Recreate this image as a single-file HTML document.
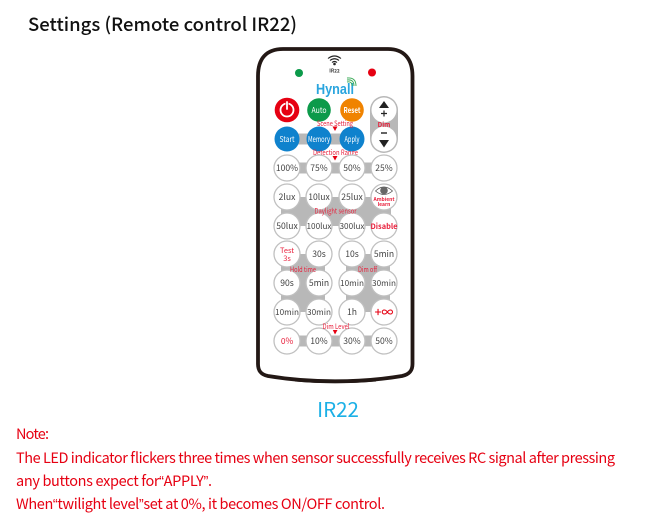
<!DOCTYPE html>
<html><head><meta charset="utf-8">
<style>
html,body{margin:0;padding:0;background:#fff;width:650px;height:525px;overflow:hidden}
svg{display:block}
text{font-family:"Noto Sans CJK SC","Liberation Sans",sans-serif}
.b{fill:#fff;stroke:#c0c0c0;stroke-width:1.300}
.l{font-size:8.600px;fill:#444;text-anchor:middle}
.w{font-size:8px;fill:#fff;text-anchor:middle}
.r{font-size:7.400px;fill:#e8203c;text-anchor:middle}
.n{font-size:14.500px;fill:#e60012}
.q{font-family:"Liberation Sans",sans-serif}
</style></head><body>
<svg width="650" height="525" viewBox="0 0 650 525" xmlns="http://www.w3.org/2000/svg">
<text x="28" y="31" font-size="18.500" font-weight="500" fill="#111" textLength="269">Settings (Remote control IR22)</text>

<path d="M283 49H388C404 49 412.500 59 412.500 76V364C412.500 371 409 374.500 402 376C360 383 310 383 268 376C261 374.500 258 371 258 364V76C258 59 266 49 283 49Z" fill="#fff" stroke="#231815" stroke-width="3.800"/>
<path d="M295 380.500Q335 384 376 380.500" fill="none" stroke="#231815" stroke-width="2"/>

<g fill="none" stroke="#222" stroke-width="1.100">
<path d="M328 58.500Q334.500 53.500 341 58.500"/><path d="M330 60.500Q334.500 57 339 60.500"/><path d="M332 62.500Q334.500 60.500 337 62.500"/>
</g>
<circle cx="334.500" cy="64" r="1.300" fill="#222"/>
<text x="334.500" y="72.500" font-size="4.800" font-weight="700" fill="#333" text-anchor="middle">IR22</text>
<circle cx="299" cy="73" r="4" fill="#0c9a4a"/>
<circle cx="372" cy="72.500" r="4" fill="#e60012"/>
<text x="316" y="94" font-size="14.500" font-weight="700" fill="#2aa5de" textLength="38" lengthAdjust="spacingAndGlyphs" style="font-family:'Liberation Sans',sans-serif">Hynall</text>
<g fill="none" stroke="#35a853" stroke-width="0.900"><path d="M347 82Q352 81 352 86"/><path d="M347 80Q354 79 354 86"/><path d="M347 78Q356 77 356 86"/></g>

<!-- gray connectors -->
<g fill="#b8b8b8">
<rect x="370" y="96" width="28" height="57" rx="14"/>
<rect x="287" y="133.500" width="65" height="11"/>
<rect x="287" y="162.500" width="97" height="11"/>
<polygon points="287,197 384,197 384,226 287,226"/>
<rect x="281" y="206" width="110" height="11"/>
<polygon points="287,254 319,254 319,312 287,312"/>
<rect x="281" y="263" width="44" height="11"/>
<rect x="281" y="292" width="44" height="11"/>
<polygon points="352,254 384,254 384,312 352,312"/>
<rect x="346" y="263" width="44" height="11"/>
<rect x="346" y="292" width="44" height="11"/>
<rect x="287" y="335.500" width="97" height="11"/>
</g>

<!-- top row -->
<circle cx="287" cy="110" r="12.300" fill="#e60012"/>
<circle cx="287" cy="110" r="6.500" fill="none" stroke="#fff" stroke-width="1.800"/>
<rect x="285.800" y="101" width="2.400" height="9" fill="#fff" stroke="#e60012" stroke-width="0.600"/>
<circle cx="319" cy="110" r="11.800" fill="#0c9a4a"/>
<circle cx="352" cy="110" r="11.800" fill="#f08300"/>
<text x="319" y="113" class="w" textLength="15" lengthAdjust="spacingAndGlyphs">Auto</text>
<text x="352" y="113" class="w" font-weight="700" textLength="17" lengthAdjust="spacingAndGlyphs">Reset</text>

<circle cx="287" cy="139" r="12.500" fill="#0f82cd"/>
<circle cx="319" cy="139" r="12.500" fill="#0f82cd"/>
<circle cx="352" cy="139" r="12.500" fill="#0f82cd"/>
<text x="287" y="142" class="w" textLength="15" lengthAdjust="spacingAndGlyphs">Start</text>
<text x="319" y="141.800" class="w" textLength="22" lengthAdjust="spacingAndGlyphs">Memory</text>
<text x="352" y="141.800" class="w" textLength="15" lengthAdjust="spacingAndGlyphs">Apply</text>

<circle cx="384" cy="110" r="12.500" fill="#fff"/>
<circle cx="384" cy="139" r="12.500" fill="#fff"/>
<polygon points="384,101 389,108 379,108" fill="#222"/>
<path d="M384 110.500v6M381 113.500h6" stroke="#222" stroke-width="1.200"/>
<path d="M381 133h6" stroke="#222" stroke-width="1.400"/>
<polygon points="379,140 389,140 384,147.500" fill="#222"/>
<text x="384" y="127" class="r" font-weight="700" style="font-size:6.400px">Dim</text>

<text x="335" y="126" class="r" textLength="36" lengthAdjust="spacingAndGlyphs">Scene Setting</text>
<polygon points="332.500,126.500 337.500,126.500 335,131" fill="#e60012"/>
<text x="335.500" y="155" class="r" textLength="45" lengthAdjust="spacingAndGlyphs">Detection Range</text>
<polygon points="332.500,156 337.500,156 335,160.500" fill="#e60012"/>

<!-- rows -->
<g>
<circle class="b" cx="287" cy="168" r="13"/><circle class="b" cx="319" cy="168" r="13"/><circle class="b" cx="352" cy="168" r="13"/><circle class="b" cx="384" cy="168" r="13"/>
<circle class="b" cx="287" cy="197" r="13"/><circle class="b" cx="319" cy="197" r="13"/><circle class="b" cx="352" cy="197" r="13"/><circle class="b" cx="384" cy="197" r="13"/>
<circle class="b" cx="287" cy="226" r="13"/><circle class="b" cx="319" cy="226" r="13"/><circle class="b" cx="352" cy="226" r="13"/><circle class="b" cx="384" cy="226" r="13"/>
<circle class="b" cx="287" cy="254" r="13"/><circle class="b" cx="319" cy="254" r="13"/><circle class="b" cx="352" cy="254" r="13"/><circle class="b" cx="384" cy="254" r="13"/>
<circle class="b" cx="287" cy="283" r="13"/><circle class="b" cx="319" cy="283" r="13"/><circle class="b" cx="352" cy="283" r="13"/><circle class="b" cx="384" cy="283" r="13"/>
<circle class="b" cx="287" cy="312" r="13"/><circle class="b" cx="319" cy="312" r="13"/><circle class="b" cx="352" cy="312" r="13"/><circle class="b" cx="384" cy="312" r="13"/>
<circle class="b" cx="287" cy="341" r="13"/><circle class="b" cx="319" cy="341" r="13"/><circle class="b" cx="352" cy="341" r="13"/><circle class="b" cx="384" cy="341" r="13"/>
</g>

<text x="287" y="171" class="l">100%</text><text x="319" y="171" class="l">75%</text><text x="352" y="171" class="l">50%</text><text x="384" y="171" class="l">25%</text>
<text x="287" y="200" class="l">2lux</text><text x="319" y="200" class="l">10lux</text><text x="352" y="200" class="l">25lux</text>
<path d="M375.500 191Q384 183 392.500 191Q384 198 375.500 191Z" fill="#fff" stroke="#555" stroke-width="0.800"/>
<circle cx="384" cy="190.500" r="3.800" fill="#666"/>
<text x="384" y="201" class="r" font-weight="700" style="font-size:5px">Ambient</text>
<text x="384" y="206" class="r" font-weight="700" style="font-size:5px">learn</text>
<text x="335.500" y="213.500" class="r" textLength="42" lengthAdjust="spacingAndGlyphs">Daylight sensor</text>
<text x="287" y="229" class="l">50lux</text><text x="319" y="229" class="l" style="font-size:8.200px">100lux</text><text x="352" y="229" class="l" style="font-size:8.200px">300lux</text>
<text x="384" y="229" class="r" font-weight="700">Disable</text>

<text x="287" y="253" class="r">Test</text><text x="287" y="261" class="r">3s</text>
<text x="319" y="257" class="l">30s</text><text x="352" y="257" class="l">10s</text><text x="384" y="257" class="l">5min</text>
<text x="303" y="272" class="r" textLength="26" lengthAdjust="spacingAndGlyphs">Hold time</text>
<text x="367.500" y="272" class="r" textLength="19" lengthAdjust="spacingAndGlyphs">Dim off</text>
<text x="287" y="286" class="l">90s</text><text x="319" y="286" class="l">5min</text><text x="352" y="286" class="l" style="font-size:8.200px">10min</text><text x="384" y="286" class="l" style="font-size:8.200px">30min</text>
<text x="287" y="315" class="l" style="font-size:8.200px">10min</text><text x="319" y="315" class="l" style="font-size:8.200px">30min</text><text x="352" y="315" class="l">1h</text>
<text x="384" y="316.500" font-size="12" fill="#e60012" text-anchor="middle" font-weight="500">+∞</text>
<text x="336" y="329" class="r" textLength="27" lengthAdjust="spacingAndGlyphs">Dim Level</text>
<polygon points="332.800,330 337.500,330 335,334.500" fill="#e60012"/>
<text x="287" y="344" class="r" style="font-size:8.400px">0%</text><text x="319" y="344" class="l">10%</text><text x="352" y="344" class="l">30%</text><text x="384" y="344" class="l">50%</text>

<text x="338" y="417" font-size="20.500" fill="#1cb0e6" text-anchor="middle">IR22</text>
<text x="16" y="439" class="n" textLength="33">Note:</text>
<text x="16" y="463" class="n" textLength="599">The LED indicator flickers three times when sensor successfully receives RC signal after pressing</text>
<text x="16" y="486" class="n" textLength="196">any buttons expect for<tspan class="q">“</tspan>APPLY<tspan class="q">”</tspan>.</text>
<text x="16" y="509" class="n" textLength="369">When<tspan class="q">“</tspan>twilight level<tspan class="q">”</tspan>set at 0%, it becomes ON/OFF control.</text>
</svg>
</body></html>
